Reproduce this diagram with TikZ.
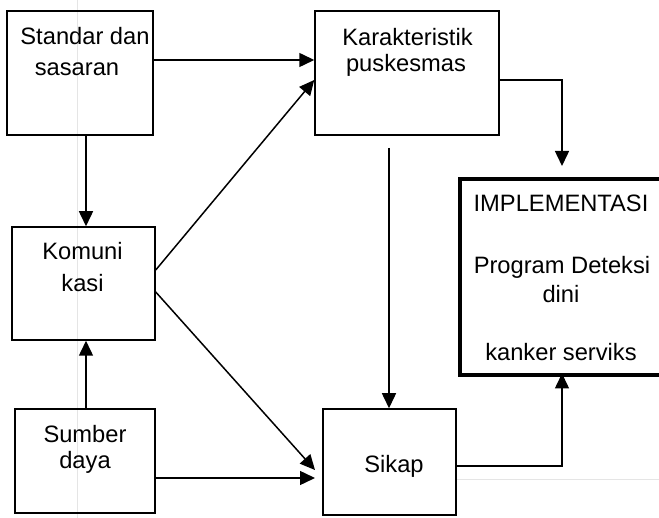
\documentclass[tikz,border=0pt]{standalone}
\usepackage{fontspec}
\setmainfont{Liberation Sans}
\usetikzlibrary{arrows.meta}
\begin{document}
\begin{tikzpicture}[x=1pt,y=-1pt,
  box/.style={draw=black,line width=1.5pt,minimum width=#1,inner sep=0pt},
  implbox/.style={draw=black,line width=4pt},
  txt/.style={anchor=base,inner sep=0pt,font=\fontsize{23.7}{28}\selectfont},
  arr/.style={draw=black,line width=1.5pt,-{Triangle[length=15pt,width=14pt]}},
  faint/.style={draw=black!10,line width=1pt}]
\useasboundingbox (0,0) rectangle (659,518);
\clip (0,0) rectangle (659,518);
\fill[white] (0,0) rectangle (659,518);
% faint background lines
\draw[faint] (77,0) -- (77,518);
\draw[faint] (456,480) -- (659,480);
% boxes
\node[box=146pt,minimum height=124pt] (s) at (80,73) {};
\node[box=184pt,minimum height=124pt] (k) at (407,73) {};
\node[box=143pt,minimum height=113pt] (kom) at (83.5,283.5) {};
\node[box=140pt,minimum height=104pt] (sd) at (85,461) {};
\node[box=133pt,minimum height=106pt] (sk) at (389.5,462) {};
\node[implbox,minimum width=220pt,minimum height=196pt] (im) at (569.5,277.5) {};
% texts
\node[txt] (s1) at (85,45) {Standar dan};
\node[txt] (s2) at (77,76) {sasaran};
\node[txt] (k1) at (407.5,45.5) {Karakteristik};
\node[txt] (k2) at (406,71.5) {puskesmas};
\node[txt] (kom1) at (82.5,260) {Komuni};
\node[txt] (kom2) at (82.5,292) {kasi};
\node[txt] (sd1) at (85,443) {Sumber};
\node[txt] (sd2) at (85,469) {daya};
\node[txt] (sk1) at (394,473) {Sikap};
\node[txt] (im1) at (561,212) {IMPLEMENTASI};
\node[txt] (im2) at (562,273.5) {Program Deteksi};
\node[txt] (im3) at (561,303) {dini};
\node[txt] (im4) at (561,361) {kanker serviks};
% coordinates for free ends
\coordinate (kEnd) at (389,148);
\coordinate (skA) at (315,470);
\coordinate (skB) at (315,478);
\coordinate (imTop) at (562,166);
% connectors
\draw[arr] (s.east |- 0,60) -- (k.west |- 0,60);
\draw[arr] (s.south -| 86,0) -- (kom.north -| 86,0);
\draw[arr] (sd.north -| 86,0) -- (kom.south -| 86,0);
\draw[arr] (kom.east |- 0,270) -- (k.west |- 0,80);
\draw[arr] (kom.east |- 0,292) -- (skA);
\draw[arr] (sd.east |- 0,478) -- (skB);
\draw[arr] (kEnd) -- (sk.north -| kEnd);
\draw[arr] (k.east |- 0,80) -| (imTop);
\draw[arr] (sk.east |- 0,466) -| (562,373.5);
\end{tikzpicture}
\end{document}
